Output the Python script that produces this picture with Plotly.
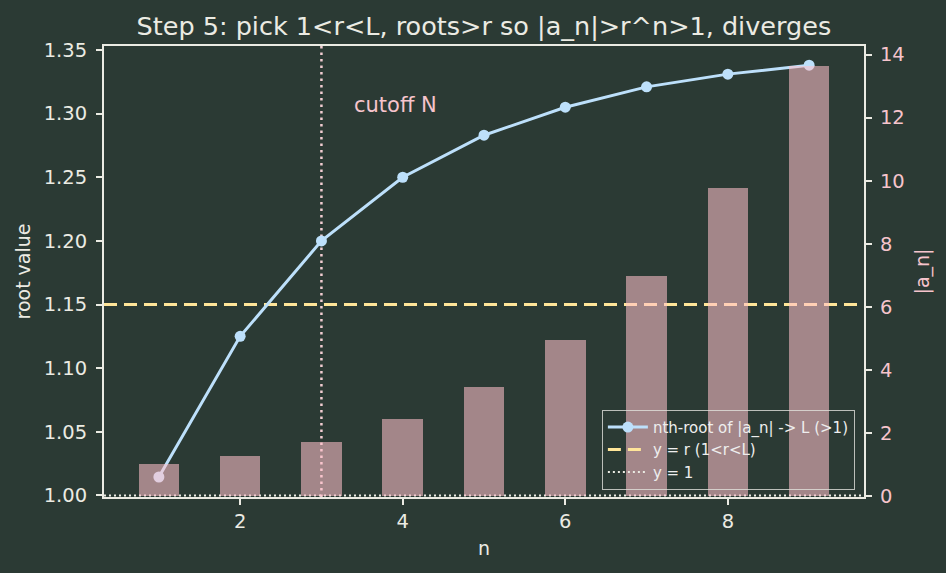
import plotly.graph_objects as go

# ---- data ----
n_vals = [1, 2, 3, 4, 5, 6, 7, 8, 9]
root_vals = [1.0145, 1.125, 1.200, 1.250, 1.283, 1.305, 1.321, 1.331, 1.338]
abs_a_vals = [1.01, 1.27, 1.73, 2.44, 3.47, 4.94, 6.97, 9.78, 13.65]
r_value = 1.15
one_value = 1.0
cutoff_N = 3

title_text = "Step 5: pick 1<r<L, roots>r so |a_n|>r^n>1, diverges"
legend_labels = ["nth-root of |a_n| -> L (>1)", "y = r (1<r<L)", "y = 1"]

# ---- styles ----
BG = "#2b3a34"
FG = "#ebebe3"
PINK = "#f6c4cc"
BLUE = "#bde0fb"
YELLOW = "#ffe599"
FONT = "DejaVu Sans"

fig = go.Figure()

# main line (left axis)
fig.add_trace(go.Scatter(
    x=n_vals, y=root_vals, mode="lines+markers", name=legend_labels[0],
    line=dict(color=BLUE, width=3), marker=dict(color=BLUE, size=11),
    yaxis="y"))
# legend proxies for the reference lines
fig.add_trace(go.Scatter(
    x=[None], y=[None], mode="lines", name=legend_labels[1],
    line=dict(color=YELLOW, width=3, dash="13px,7px"), yaxis="y"))
fig.add_trace(go.Scatter(
    x=[None], y=[None], mode="lines", name=legend_labels[2],
    line=dict(color=FG, width=2, dash="2px,3px"), yaxis="y"))

# bars on the right axis (drawn on top)
fig.add_trace(go.Bar(
    x=n_vals, y=abs_a_vals, width=0.5, name="|a_n|", showlegend=False,
    marker=dict(color="rgba(255,192,203,0.57)", line=dict(width=0)),
    yaxis="y2"))

# reference lines
fig.add_shape(type="line", xref="x domain", x0=0, x1=1, yref="y",
              y0=r_value, y1=r_value, layer="below",
              line=dict(color=YELLOW, width=3, dash="13px,7px"))
fig.add_shape(type="line", xref="x domain", x0=0, x1=1, yref="y",
              y0=one_value, y1=one_value, layer="below",
              line=dict(color=FG, width=2, dash="2px,3px"))
fig.add_shape(type="line", xref="x", x0=cutoff_N, x1=cutoff_N,
              yref="y domain", y0=0, y1=1, layer="below",
              line=dict(color="#f2cdd2", width=2.5, dash="2.5px,4px"))

fig.add_annotation(x=cutoff_N + 0.37, y=1.307, xref="x", yref="y",
                   text="cutoff N", showarrow=False, xanchor="left",
                   yanchor="middle", font=dict(family=FONT, size=21, color=PINK))

fig.update_layout(
    width=946, height=573,
    margin=dict(l=104, r=82, t=46, b=76),
    paper_bgcolor=BG, plot_bgcolor=BG,
    font=dict(family=FONT, color=FG, size=19),
    title=dict(text=title_text, x=0.5115, xanchor="center", y=0.955,
               yanchor="middle", yref="container",
               font=dict(family=FONT, size=25.5, color=FG)),
    bargap=0,
    showlegend=True,
    legend=dict(x=0.988, y=0.016, xanchor="right", yanchor="bottom",
                bgcolor="rgba(0,0,0,0)", bordercolor="rgba(225,225,220,0.8)",
                borderwidth=1, font=dict(family=FONT, size=15, color="#eeeeee"),
                tracegroupgap=0, itemwidth=40),
    xaxis=dict(range=[0.325, 9.675], tickvals=[2, 4, 6, 8],
               showgrid=False, zeroline=False,
               showline=True, linecolor=FG, linewidth=2, mirror=True,
               ticks="outside", ticklen=6, tickwidth=1.5, tickcolor=FG,
               tickfont=dict(size=19.5, color=FG),
               title=dict(text="n", standoff=9, font=dict(size=19, color=FG))),
    yaxis=dict(range=[0.9988, 1.3531], tickvals=[1.00, 1.05, 1.10, 1.15, 1.20, 1.25, 1.30, 1.35],
               tickformat=".2f", showgrid=False, zeroline=False,
               showline=True, linecolor=FG, linewidth=2,
               ticks="outside", ticklen=6, tickwidth=1.5, tickcolor=FG,
               ticklabelstandoff=5,
               tickfont=dict(size=19.5, color=FG),
               title=dict(text="root value", standoff=8, font=dict(size=19, color=FG))),
    yaxis2=dict(range=[-0.02, 14.27], tickvals=[0, 2, 4, 6, 8, 10, 12, 14],
                overlaying="y", side="right", showgrid=False, zeroline=False,
                showline=True, linecolor=FG, linewidth=2,
                ticks="outside", ticklen=6, tickwidth=1.5, tickcolor=FG,
                ticklabelstandoff=4,
                tickfont=dict(size=19.5, color=PINK),
                title=dict(text="|a_n|", standoff=12, font=dict(size=19, color=PINK))),
)

fig.write_html("out.html")
